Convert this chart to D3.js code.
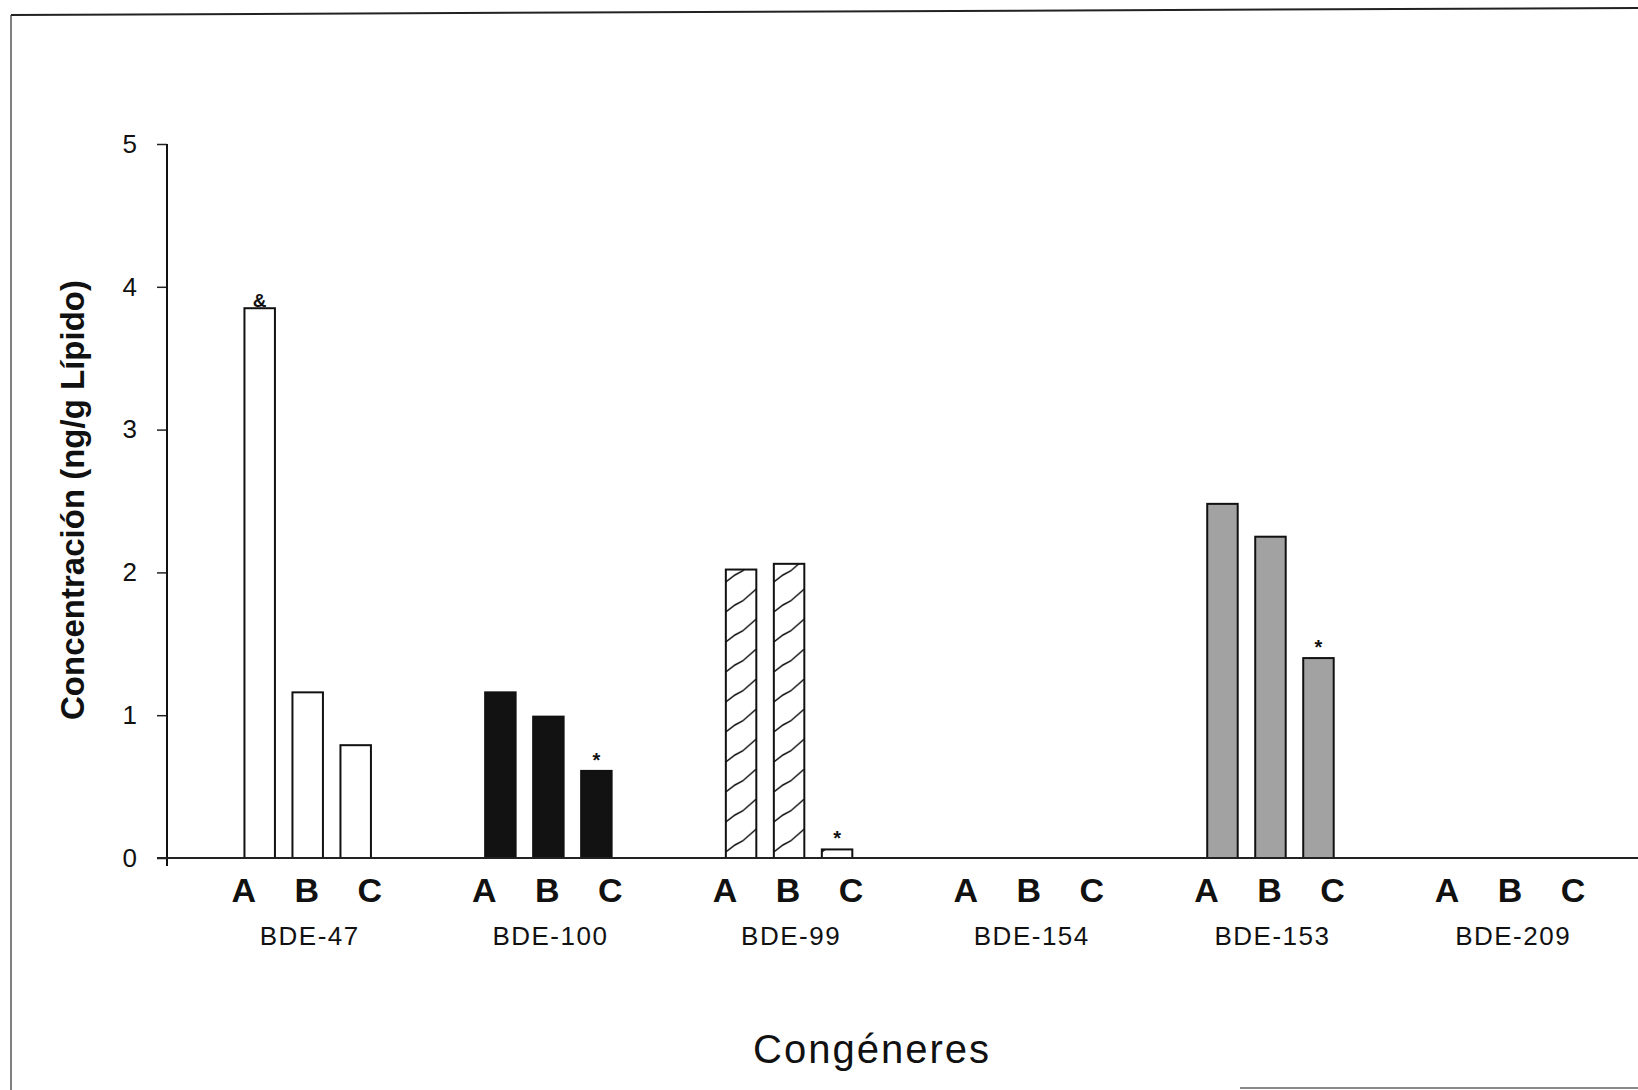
<!DOCTYPE html>
<html>
<head>
<meta charset="utf-8">
<script src="https://cdn.jsdelivr.net/npm/d3@7/dist/d3.min.js"></script>
<style>
  html, body { margin: 0; padding: 0; background: #fff; }
  svg { display: block; }
  text { font-family: "Liberation Sans", Arial, sans-serif; fill: #111; }
</style>
</head>
<body>
<svg id="chart" width="1638" height="1090"></svg>
<script>
// ---- data ----
const categories = ["BDE-47", "BDE-100", "BDE-99", "BDE-154", "BDE-153", "BDE-209"];
const groups = ["A", "B", "C"];
const valuesA = [3.85, 1.16, 2.02, 0, 2.48, 0];
const valuesB = [1.16, 0.99, 2.06, 0, 2.25, 0];
const valuesC = [0.79, 0.61, 0.06, 0, 1.40, 0];
const yTicks = [0, 1, 2, 3, 4, 5];
const noteCategories = ["BDE-47", "BDE-100", "BDE-99", "BDE-153"];
const noteGroups = ["A", "C", "C", "C"];
const noteSymbols = ["&", "*", "*", "*"];
const yTitle = "Concentración (ng/g Lípido)";
const xTitle = "Congéneres";

// ---- styles (not data) ----
const fillStyle = {"BDE-47": "white", "BDE-100": "#121212", "BDE-99": "hatch", "BDE-154": "white", "BDE-153": "#a2a2a2", "BDE-209": "white"};

const seriesByGroup = {A: valuesA, B: valuesB, C: valuesC};
const rows = [];
categories.forEach((c, i) => groups.forEach(g => rows.push({cat: c, grp: g, value: seriesByGroup[g][i]})));

const svg = d3.select("#chart");
const defs = svg.append("defs");

// frame (scanned page border)
svg.append("line").attr("x1", 11).attr("y1", 15).attr("x2", 11).attr("y2", 1090).attr("stroke", "#555").attr("stroke-width", 1.5);
svg.append("line").attr("x1", 11).attr("y1", 15).attr("x2", 1638).attr("y2", 8).attr("stroke", "#222").attr("stroke-width", 2);
svg.append("line").attr("x1", 1240).attr("y1", 1088).attr("x2", 1638).attr("y2", 1088).attr("stroke", "#888").attr("stroke-width", 2);

// scales
const y = d3.scaleLinear().domain([0, 5]).range([858, 144]);
const x0 = d3.scaleBand().domain(categories).range([187.35, 1631.5]).padding(0);
const x1 = d3.scaleBand().domain(groups).range([x0.bandwidth() / 2 - 72, x0.bandwidth() / 2 + 72])
  .paddingInner(0.365).paddingOuter(0.1825);
const xl = d3.scalePoint().domain(groups).range([x0.bandwidth() / 2 - 64, x0.bandwidth() / 2 + 62]);

// y axis
const yAxis = d3.axisLeft(y).tickValues(yTicks).tickFormat(d3.format("d")).tickSize(10).tickPadding(20);
const gy = svg.append("g").attr("transform", "translate(167,0)").call(yAxis);
gy.select(".domain").remove();
gy.selectAll(".tick line").attr("stroke", "#222").attr("stroke-width", 1.5);
gy.selectAll(".tick text").style("font-size", "26px").style("font-family", "Liberation Sans, Arial, sans-serif").attr("fill", "#222");
svg.append("line").attr("x1", 167).attr("x2", 167).attr("y1", y(5)).attr("y2", y(0) + 8).attr("stroke", "#111").attr("stroke-width", 2);

// hatch patterns (one per hatched bar, anchored to its left edge)
rows.filter(r => fillStyle[r.cat] === "hatch").forEach((r, i) => {
  const bx = x0(r.cat) + x1(r.grp);
  const w = x1.bandwidth();
  const p = defs.append("pattern").attr("id", "hatch" + r.grp).attr("patternUnits", "userSpaceOnUse")
    .attr("x", bx).attr("y", y(0)).attr("width", w).attr("height", 30);
  p.append("rect").attr("width", w).attr("height", 30).attr("fill", "white");
  p.append("path").attr("d", `M0,24 L${w * 0.3},17 L${w * 0.55},13 L${w},1`).attr("fill", "none").attr("stroke", "#111").attr("stroke-width", 1.5);
});

// bars
const gBars = svg.append("g");
gBars.selectAll("rect").data(rows.filter(r => r.value > 0)).join("rect")
  .attr("x", d => x0(d.cat) + x1(d.grp))
  .attr("y", d => y(d.value))
  .attr("width", x1.bandwidth())
  .attr("height", d => y(0) - y(d.value))
  .attr("fill", d => fillStyle[d.cat] === "hatch" ? `url(#hatch${d.grp})` : fillStyle[d.cat])
  .attr("stroke", "#111")
  .attr("stroke-width", 2);

// x axis line
svg.append("line").attr("x1", 157).attr("x2", 1638).attr("y1", y(0)).attr("y2", y(0)).attr("stroke", "#222").attr("stroke-width", 2);

// group letters A B C
const gl = svg.append("g");
categories.forEach(c => {
  gl.selectAll(null).data(groups).join("text")
    .attr("x", g => x0(c) + xl(g))
    .attr("y", 902)
    .attr("text-anchor", "middle")
    .style("font-size", "34px").style("font-weight", "bold")
    .text(g => g);
});

// category labels
svg.append("g").selectAll("text").data(categories).join("text")
  .attr("x", c => x0(c) + x0.bandwidth() / 2 + 2)
  .attr("y", 945)
  .attr("text-anchor", "middle")
  .style("font-size", "26px").style("letter-spacing", "1.5px")
  .attr("fill", "#222")
  .text(c => c);

// significance notes
svg.append("g").selectAll("text").data(noteSymbols).join("text")
  .attr("x", (s, i) => x0(noteCategories[i]) + x1(noteGroups[i]) + x1.bandwidth() / 2)
  .attr("y", (s, i) => {
    const v = seriesByGroup[noteGroups[i]][categories.indexOf(noteCategories[i])];
    return s === "&" ? y(v) - 1 : y(v) - 4;
  })
  .attr("text-anchor", "middle")
  .style("font-size", s => s === "&" ? "19px" : "20px").style("font-weight", "bold")
  .text(s => s);

// axis titles
svg.append("text")
  .attr("transform", "translate(84,500) rotate(-90)")
  .attr("text-anchor", "middle")
  .style("font-size", "33px").style("font-weight", "bold")
  .text(yTitle);

svg.append("text")
  .attr("x", 872).attr("y", 1063)
  .attr("text-anchor", "middle")
  .style("font-size", "40px").style("letter-spacing", "2px")
  .attr("fill", "#222")
  .text(xTitle);
</script>
</body>
</html>
